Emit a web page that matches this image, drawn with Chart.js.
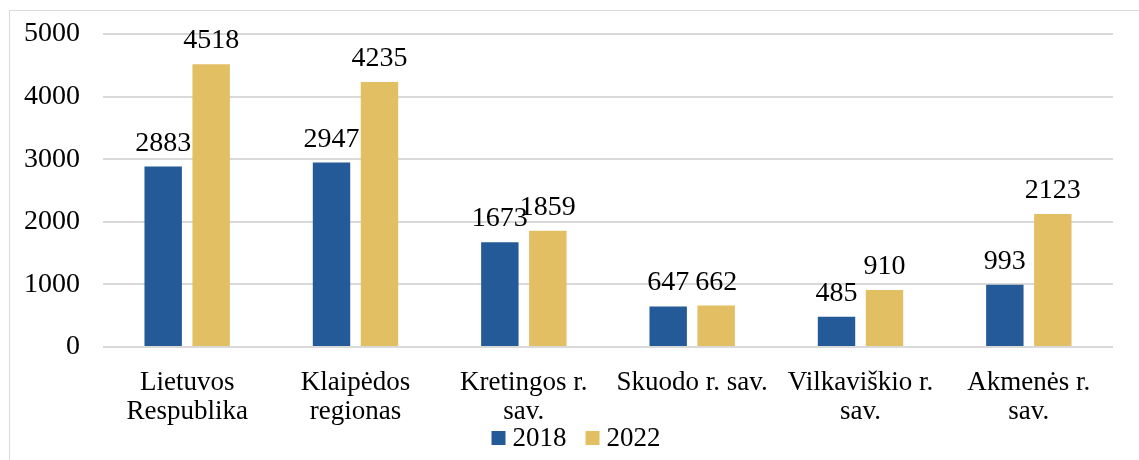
<!DOCTYPE html>
<html>
<head>
<meta charset="utf-8">
<script src="https://cdn.jsdelivr.net/npm/chart.js@4"></script>
<style>
  html, body { margin: 0; padding: 0; background: #fff; }
  #wrap { position: relative; width: 1139px; height: 460px; overflow: hidden; }
  #frame { position: absolute; left: 9px; top: 10px; width: 1200px; height: 500px; border: 1px solid #d9d9d9; }
  #chart { position: absolute; left: 0; top: 0; }
</style>
</head>
<body>
<div id="wrap">
  <div id="frame"></div>
  <canvas id="chart" width="1139" height="460"></canvas>
</div>
<script>
// data
const categories = [
    ['Lietuvos', 'Respublika'],
    ['Klaipėdos', 'regionas'],
    ['Kretingos r.', 'sav.'],
    'Skuodo r. sav.',
    ['Vilkaviškio r.', 'sav.'],
    ['Akmenės r.', 'sav.']
];
const values2018 = [2883, 2947, 1673, 647, 485, 993];
const values2022 = [4518, 4235, 1859, 662, 910, 2123];
const yTicks = [0, 1000, 2000, 3000, 4000, 5000];

const fontFamily = '"Liberation Serif", "Times New Roman", serif';

// values above the bars
const valueLabels = {
    id: 'valueLabels',
    afterDatasetsDraw(chart) {
        const ctx = chart.ctx;
        ctx.save();
        ctx.font = '28px ' + fontFamily;
        ctx.fillStyle = '#000';
        ctx.textAlign = 'center';
        ctx.textBaseline = 'alphabetic';
        chart.data.datasets.forEach((ds, i) => {
            chart.getDatasetMeta(i).data.forEach((bar, j) => {
                ctx.fillText(String(ds.data[j]), bar.x, bar.y - 16);
            });
        });
        ctx.restore();
    }
};

// legend drawn by hand so it can sit under the axis labels like in the original
const bottomLegend = {
    id: 'bottomLegend',
    afterDraw(chart) {
        const ctx = chart.ctx;
        const box = 14, gap = 7, itemGap = 19, cx = 576, cy = 438;
        ctx.save();
        ctx.font = '27px ' + fontFamily;
        ctx.textBaseline = 'middle';
        ctx.textAlign = 'left';
        const items = chart.data.datasets.map(ds => ({
            text: ds.label, color: ds.backgroundColor, w: ctx.measureText(ds.label).width
        }));
        const total = items.reduce((s, it) => s + box + gap + it.w, 0) + itemGap * (items.length - 1);
        let x = cx - total / 2;
        items.forEach(it => {
            ctx.fillStyle = it.color;
            ctx.fillRect(x, cy - box / 2, box, box);
            ctx.fillStyle = '#000';
            ctx.fillText(it.text, x + box + gap, cy + 1);
            x += box + gap + it.w + itemGap;
        });
        ctx.restore();
    }
};

new Chart(document.getElementById('chart'), {
    type: 'bar',
    data: {
        labels: categories,
        datasets: [
            { label: '2018', data: values2018, backgroundColor: '#255a99' },
            { label: '2022', data: values2022, backgroundColor: '#e3bf63' }
        ]
    },
    options: {
        responsive: false,
        animation: false,
        layout: { padding: { top: 34, right: 26, left: 0, bottom: 0 } },
        categoryPercentage: 0.57,
        barPercentage: 0.78,
        plugins: {
            legend: { display: false },
            tooltip: { enabled: false }
        },
        scales: {
            x: {
                grid: { display: false },
                border: { display: false },
                afterFit: axis => { axis.height = 113; },
                ticks: {
                    font: { family: fontFamily, size: 27, lineHeight: 1.08 },
                    color: '#000',
                    maxRotation: 0,
                    autoSkip: false,
                    padding: 13
                }
            },
            y: {
                min: 0,
                max: 5000,
                afterBuildTicks: axis => { axis.ticks = yTicks.map(v => ({ value: v })); },
                afterFit: axis => {
                    axis.width = 103;
                    // tick padding is horizontal here, keep it out of the top/bottom space
                    axis.paddingTop = 17;
                    axis.paddingBottom = 17;
                },
                grid: { color: '#d9d9d9', lineWidth: 2, drawTicks: false },
                border: { display: false },
                ticks: {
                    font: { family: fontFamily, size: 28 },
                    color: '#000',
                    padding: 23,
                    callback: v => String(v)
                }
            }
        }
    },
    plugins: [valueLabels, bottomLegend]
});
</script>
</body>
</html>
